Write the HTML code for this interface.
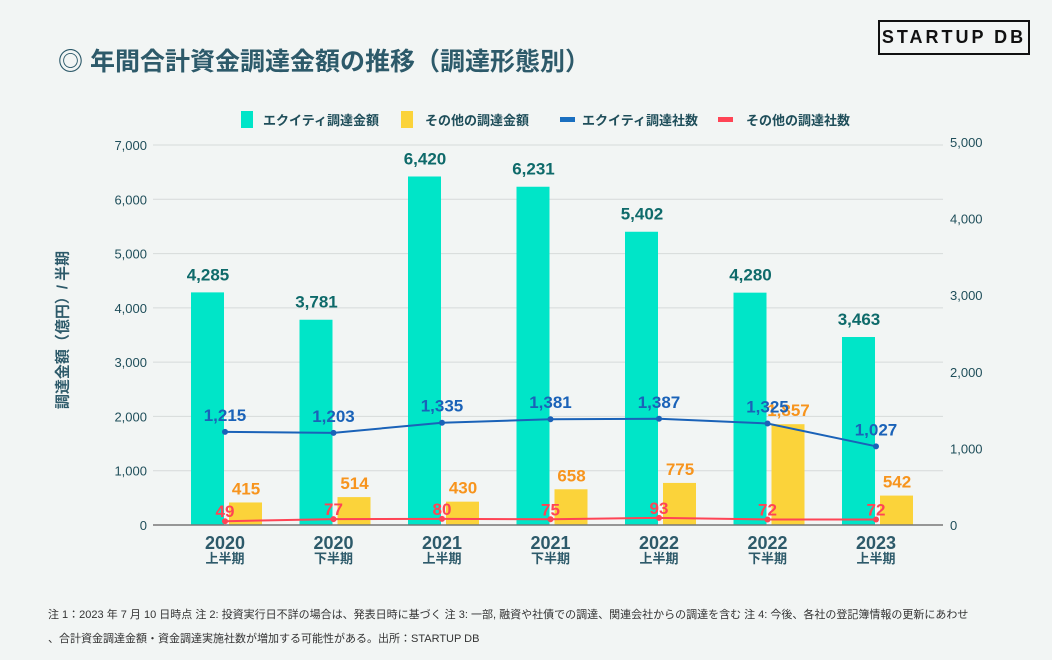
<!DOCTYPE html>
<html><head><meta charset="utf-8">
<style>
body{margin:0;background:#f2f5f4;font-family:"Liberation Sans","Noto Sans CJK JP",sans-serif;}
#wrap{position:relative;width:1052px;height:660px;overflow:hidden;background:#f2f5f4;}
.t{position:absolute;white-space:nowrap;}
</style></head><body>
<div id="wrap">
<div class="t" style="left:58px;top:42px;font-size:25px;font-weight:bold;color:#2d5a6a;">◎ 年間合計資金調達金額の推移（調達形態別）</div>
<div class="t" style="left:878px;top:20px;width:148px;height:31px;border:2px solid #111;font-size:18px;font-weight:bold;letter-spacing:3px;line-height:31px;text-align:center;color:#111;">STARTUP DB</div>
<div class="t" style="top:330px;transform:translate(-50%,-50%) rotate(-90deg);left:62px;font-size:15px;font-weight:bold;color:#2d5a6a;">調達金額（億円）/ 半期</div>
<svg id="chart" width="1052" height="660" style="position:absolute;left:0;top:0"></svg>
<div class="t" style="left:48px;top:603px;font-size:11px;line-height:24px;color:#333;">注 1：2023 年 7 月 10 日時点 注 2: 投資実行日不詳の場合は、発表日時に基づく 注 3: 一部, 融資や社債での調達、関連会社からの調達を含む 注 4: 今後、各社の登記簿情報の更新にあわせ<br>、合計資金調達金額・資金調達実施社数が増加する可能性がある。出所：STARTUP DB</div>
</div>
<script>
const categories=["2020","2020","2021","2021","2022","2022","2023"];
const halves=["上半期","下半期","上半期","下半期","上半期","下半期","上半期"];
const equityAmount=[4285,3781,6420,6231,5402,4280,3463];
const otherAmount=[415,514,430,658,775,1857,542];
const equityCount=[1215,1203,1335,1381,1387,1325,1027];
const otherCount=[49,77,80,75,93,72,72];
const leftTicks=[0,1000,2000,3000,4000,5000,6000,7000];
const rightTicks=[0,1000,2000,3000,4000,5000];

const svg=document.getElementById('chart');
const NS='http://www.w3.org/2000/svg';
function mk(tag,attrs,txt){const e=document.createElementNS(NS,tag);for(const k in attrs)e.setAttribute(k,attrs[k]);if(txt!==undefined)e.textContent=txt;svg.appendChild(e);return e;}
const y0=525;
const yL=v=>y0-v*(380/7000);
const yR=v=>y0-v*(383/5000);
const xc=i=>225+i*108.5;
const F='"Liberation Sans","Noto Sans CJK JP",sans-serif';

leftTicks.forEach(v=>{
  if(v>0){const g=mk('line',{x1:153,x2:943,y1:yL(v),y2:yL(v),stroke:'#d6dada','stroke-width':1});
  
  }
  const t=mk('text',{x:147,y:yL(v)+5,'text-anchor':'end','font-size':13,fill:'#1f4e5a','font-family':F},v.toLocaleString('en-US'));
  
  
});
rightTicks.forEach(v=>{
  const t=mk('text',{x:950,y:yR(v)+5,'text-anchor':'start','font-size':13,fill:'#1f4e5a','font-family':F},v.toLocaleString('en-US'));
  
  
});

categories.forEach((c,i)=>{
  const x=xc(i);
  const b1=mk('rect',{x:x-34,y:yL(equityAmount[i]),width:33,height:y0-yL(equityAmount[i]),fill:'#00e5c8'});
  
  
  const b2=mk('rect',{x:x+4,y:yL(otherAmount[i]),width:33,height:y0-yL(otherAmount[i]),fill:'#fbd33a'});
  
  
  const l1=mk('text',{x:x-17,y:yL(equityAmount[i])-12,'text-anchor':'middle','font-size':17,'font-weight':'bold',fill:'#0e6a6a','font-family':F},equityAmount[i].toLocaleString('en-US'));
  
  
  const l2=mk('text',{x:x+21,y:yL(otherAmount[i])-8,'text-anchor':'middle','font-size':17,'font-weight':'bold',fill:'#f7941d','font-family':F},otherAmount[i].toLocaleString('en-US'));
  
  
  const c1=mk('text',{x:x,y:549,'text-anchor':'middle','font-size':18,'font-weight':'bold',fill:'#2d5a6a','font-family':F},c);
  
  
  const c2=mk('text',{x:x,y:563,'text-anchor':'middle','font-size':13,'font-weight':'bold',fill:'#2d5a6a','font-family':F},halves[i]);
  
  
});
const ax=mk('line',{x1:153,x2:943,y1:y0,y2:y0,stroke:'#777','stroke-width':1.5});



function series(vals,color,name,lblOff){
  const p=mk('polyline',{points:vals.map((v,i)=>xc(i)+','+yR(v)).join(' '),fill:'none',stroke:color,'stroke-width':2});
  
  
  vals.forEach((v,i)=>{
    const d=mk('circle',{cx:xc(i),cy:yR(v),r:3,fill:color});
    
    
    const t=mk('text',{x:xc(i),y:yR(v)+lblOff,'text-anchor':'middle','font-size':17,'font-weight':'bold',fill:color,'font-family':F},v.toLocaleString('en-US'));
    
    
  });
}
series(equityCount,'#1a62b8','equity-count',-11);
series(otherCount,'#ff4455','other-count',-4);

const leg=[['rect','#00e5c8',241,'エクイティ調達金額',263],['rect','#fbd33a',401,'その他の調達金額',425],['line','#1a6fc0',560,'エクイティ調達社数',582],['line','#ff4455',718,'その他の調達社数',746]];
leg.forEach(l=>{
  let m;
  if(l[0]==='rect') m=mk('rect',{x:l[2],y:111,width:12,height:17,fill:l[1]});
  else m=mk('rect',{x:l[2],y:117,width:15,height:5,fill:l[1]});
  
  
  const t=mk('text',{x:l[4],y:125,'font-size':13,'font-weight':'bold',fill:'#1f4e5a','font-family':F},l[3]);
  
  
});
</script>
</body></html>
